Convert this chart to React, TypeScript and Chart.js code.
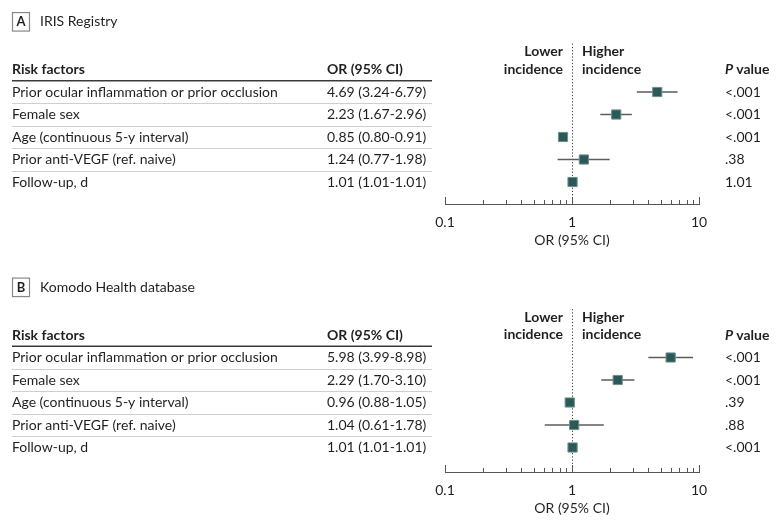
import React, { useEffect, useRef } from 'react';
import { Chart, registerables } from 'chart.js';

Chart.register(...registerables);

// ---------- data ----------
const RISK_FACTORS = [
  'Prior ocular inflammation or prior occlusion',
  'Female sex',
  'Age (continuous 5-y interval)',
  'Prior anti-VEGF (ref. naive)',
  'Follow-up, d',
];

const IRIS_OR = [4.69, 2.23, 0.85, 1.24, 1.01];
const IRIS_LO = [3.24, 1.67, 0.8, 0.77, 1.01];
const IRIS_HI = [6.79, 2.96, 0.91, 1.98, 1.01];
const IRIS_P = ['<.001', '<.001', '<.001', '.38', '1.01'];

const KOMODO_OR = [5.98, 2.29, 0.96, 1.04, 1.01];
const KOMODO_LO = [3.99, 1.7, 0.88, 0.61, 1.01];
const KOMODO_HI = [8.98, 3.1, 1.05, 1.78, 1.01];
const KOMODO_P = ['<.001', '<.001', '.39', '.88', '<.001'];

const X_TICKS = [0.1, 0.2, 0.3, 0.4, 0.5, 0.6, 0.7, 0.8, 0.9, 1, 2, 3, 4, 5, 6, 7, 8, 9, 10];
const LABELED_TICKS = [0.1, 1, 10];
const TICK_LABELS = ['0.1', '1', '10'];

const X_TITLE = 'OR (95% CI)';
const COL_RISK = 'Risk factors';
const COL_OR = 'OR (95% CI)';
const COL_P = 'value';
const LOWER_TXT = ['Lower', 'incidence'];
const HIGHER_TXT = ['Higher', 'incidence'];

type Panel = {
  key: string;
  letter: string;
  title: string;
  or: number[];
  lo: number[];
  hi: number[];
  p: string[];
};

const PANELS: Panel[] = [
  { key: 'a', letter: 'A', title: 'IRIS Registry', or: IRIS_OR, lo: IRIS_LO, hi: IRIS_HI, p: IRIS_P },
  { key: 'b', letter: 'B', title: 'Komodo Health database', or: KOMODO_OR, lo: KOMODO_LO, hi: KOMODO_HI, p: KOMODO_P },
];

// ---------- style / layout ----------
const FONT = 'Lato, "Open Sans", sans-serif';
const TEXT = '#231f20';
const MARK = '#2b5957';
const CANVAS_W = 780;
const CANVAS_H = 262;
const ROW_STEP = 22.5;

const LAYOUTS = [
  { top: 42, row0: 92, axisH: 58, titlePad: 13.6 },
  { top: 45.5, row0: 95.5, axisH: 52, titlePad: 7.6 },
];

function fmt(v: number) {
  return v.toFixed(2);
}

function labelFor(v: number) {
  const idx = LABELED_TICKS.findIndex((t) => Math.abs(t - v) < 1e-9);
  return idx >= 0 ? TICK_LABELS[idx] : '';
}

function forestPlugin(panel: Panel) {
  return {
    id: 'forest-' + panel.key,
    beforeDatasetsDraw(chart: any) {
      const ctx = chart.ctx;
      const xs = chart.scales.x;
      const ys = chart.scales.y;
      const x = Math.round(xs.getPixelForValue(1)) + 0.5;
      ctx.save();
      ctx.strokeStyle = '#3a3a3a';
      ctx.lineWidth = 1;
      ctx.setLineDash([1.2, 2]);
      ctx.beginPath();
      ctx.moveTo(x, ys.getPixelForValue(-2.15));
      ctx.lineTo(x, chart.chartArea.bottom);
      ctx.stroke();
      ctx.restore();
    },
    afterDraw(chart: any) {
      const ctx = chart.ctx;
      const xs = chart.scales.x;
      const ys = chart.scales.y;
      const Y = (v: number) => ys.getPixelForValue(v);
      const bottom = chart.chartArea.bottom;
      ctx.save();

      // upward tick marks on axis
      ctx.strokeStyle = '#555';
      ctx.lineWidth = 1;
      xs.ticks.forEach((t: any) => {
        const px = Math.round(xs.getPixelForValue(t.value)) + 0.5;
        const major = LABELED_TICKS.some((m) => Math.abs(m - t.value) < 1e-9);
        ctx.beginPath();
        ctx.moveTo(px, bottom);
        ctx.lineTo(px, bottom - (major ? 7 : 4));
        ctx.stroke();
      });

      // panel label box + title
      const ty = Y(-3.13);
      ctx.strokeStyle = '#888';
      ctx.lineWidth = 1.2;
      ctx.strokeRect(12.5, ty - 9, 17, 18.5);
      ctx.fillStyle = TEXT;
      ctx.textBaseline = 'middle';
      ctx.textAlign = 'center';
      ctx.font = `bold 13px ${FONT}`;
      ctx.fillText(panel.letter, 21, ty + 0.5);
      ctx.textAlign = 'left';
      ctx.font = `14px ${FONT}`;
      ctx.fillText(panel.title, 40, ty);

      // headers
      ctx.font = `bold 14px ${FONT}`;
      ctx.fillText(COL_RISK, 12, Y(-1));
      ctx.fillText(COL_OR, 327, Y(-1));
      ctx.font = `italic bold 14px ${FONT}`;
      ctx.fillText('P', 725, Y(-1));
      const pw = ctx.measureText('P ').width;
      ctx.font = `bold 14px ${FONT}`;
      ctx.fillText(COL_P, 725 + pw, Y(-1));

      ctx.textAlign = 'right';
      ctx.fillText(LOWER_TXT[0], 563, Y(-1.8));
      ctx.fillText(LOWER_TXT[1], 563, Y(-1.02));
      ctx.textAlign = 'left';
      ctx.fillText(HIGHER_TXT[0], 582, Y(-1.8));
      ctx.fillText(HIGHER_TXT[1], 582, Y(-1.02));

      // header rule
      ctx.strokeStyle = '#3a3a3a';
      ctx.lineWidth = 1.5;
      ctx.beginPath();
      ctx.moveTo(12, Y(-0.5));
      ctx.lineTo(432, Y(-0.5));
      ctx.stroke();

      // row separators
      ctx.strokeStyle = '#cfcfcf';
      ctx.lineWidth = 1;
      for (let i = 0; i < RISK_FACTORS.length - 1; i++) {
        const yy = Math.round(Y(i + 0.5)) + 0.5;
        ctx.beginPath();
        ctx.moveTo(12, yy);
        ctx.lineTo(432, yy);
        ctx.stroke();
      }

      // rows
      ctx.font = `14px ${FONT}`;
      ctx.fillStyle = TEXT;
      RISK_FACTORS.forEach((rf, i) => {
        const yy = Y(i);
        ctx.fillText(rf, 12, yy);
        ctx.fillText(`${fmt(panel.or[i])} (${fmt(panel.lo[i])}-${fmt(panel.hi[i])})`, 327, yy);
        ctx.fillText(panel.p[i], 725, yy);
      });

      ctx.restore();
    },
  };
}

function makeChart(canvas: HTMLCanvasElement, panel: Panel, lay: any) {
  const top = lay.top;
  const bottom = CANVAS_H - lay.axisH;
  const yMin = -(lay.row0 - top) / ROW_STEP;
  const yMax = yMin + (bottom - top) / ROW_STEP;

  const ciSets = panel.or.map((_, i) => ({
    type: 'line',
    data: [
      { x: panel.lo[i], y: i },
      { x: panel.hi[i], y: i },
    ],
    borderColor: '#5c5c5c',
    borderWidth: 1.5,
    pointRadius: 0,
    showLine: true,
    order: 2,
  }));

  const pointSet = {
    type: 'scatter',
    data: panel.or.map((v, i) => ({ x: v, y: i })),
    pointStyle: 'rect',
    pointRadius: 6.5,
    backgroundColor: MARK,
    borderColor: '#6f8e8c',
    borderWidth: 1,
    order: 1,
  };

  return new Chart(canvas, {
    type: 'scatter',
    data: { datasets: [...ciSets, pointSet] as any },
    options: {
      animation: false,
      responsive: false,
      maintainAspectRatio: false,
      events: [],
      layout: { padding: { left: 445, right: 81, top, bottom: 0 } },
      plugins: {
        legend: { display: false },
        tooltip: { enabled: false },
      },
      scales: {
        x: {
          type: 'logarithmic',
          min: 0.1,
          max: 10,
          position: 'bottom',
          afterBuildTicks: (s: any) => {
            s.ticks = X_TICKS.map((v) => ({ value: v }));
          },
          afterFit: (s: any) => {
            s.height = lay.axisH;
          },
          grid: { display: false, drawTicks: false },
          border: { display: true, color: '#555', width: 1 },
          ticks: {
            autoSkip: false,
            maxRotation: 0,
            minRotation: 0,
            padding: 9.6,
            color: TEXT,
            font: { family: FONT, size: 14 },
            callback: (v: any) => labelFor(Number(v)),
          },
          title: {
            display: true,
            text: X_TITLE,
            color: TEXT,
            font: { family: FONT, size: 14 },
            padding: { top: 0, bottom: lay.titlePad },
          },
        },
        y: {
          type: 'linear',
          display: false,
          reverse: true,
          min: yMin,
          max: yMax,
        },
      },
    } as any,
    plugins: [forestPlugin(panel) as any],
  });
}

export default function App() {
  const refA = useRef<HTMLCanvasElement>(null);
  const refB = useRef<HTMLCanvasElement>(null);

  useEffect(() => {
    const charts: Chart[] = [];
    [refA, refB].forEach((r, i) => {
      if (r.current) charts.push(makeChart(r.current, PANELS[i], LAYOUTS[i]));
    });
    return () => charts.forEach((c) => c.destroy());
  }, []);

  return (
    <div style={{ position: 'absolute', left: 0, top: 0, width: CANVAS_W, height: CANVAS_H * 2, background: '#fff' }}>
      <canvas ref={refA} width={CANVAS_W} height={CANVAS_H} style={{ display: 'block' }} />
      <canvas ref={refB} width={CANVAS_W} height={CANVAS_H} style={{ display: 'block' }} />
    </div>
  );
}
